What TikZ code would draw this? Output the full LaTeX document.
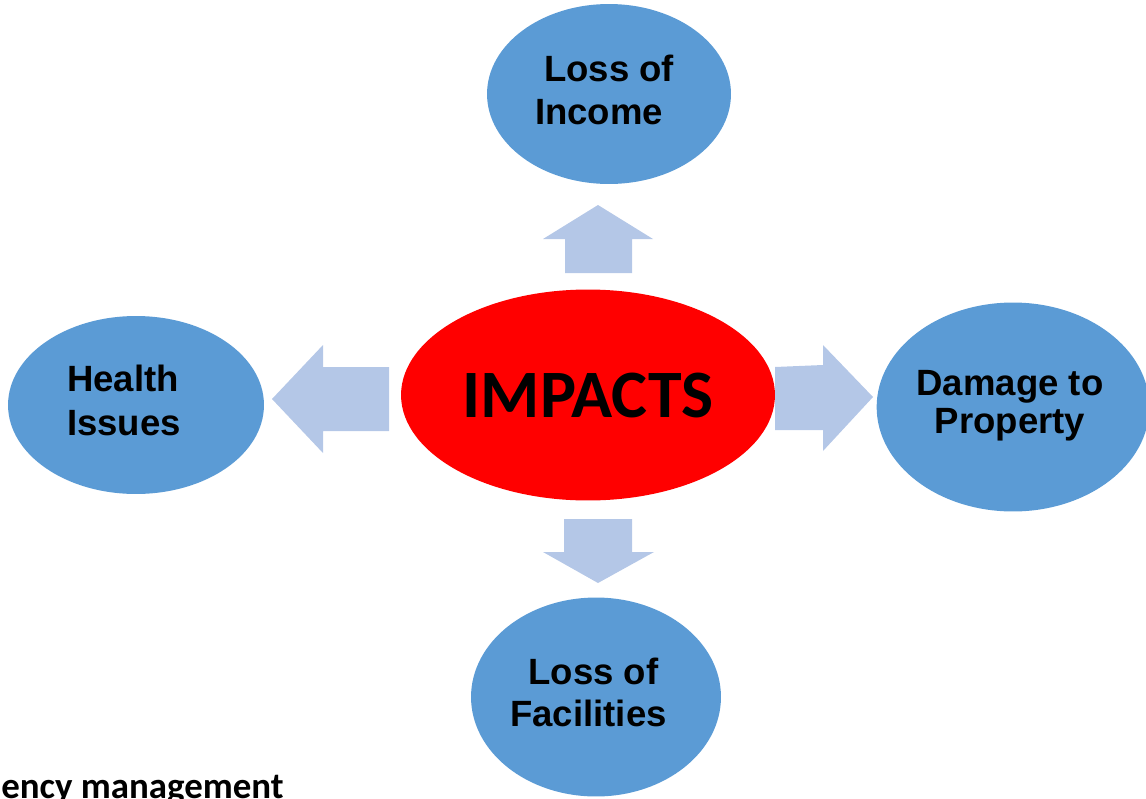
\documentclass[tikz,border=0pt]{standalone}
\usepackage{fontspec}
\setmainfont{Liberation Sans}
\newfontfamily\calibri{Carlito}
\usetikzlibrary{shapes.geometric}
\definecolor{bubbleblue}{HTML}{5B9BD5}
\definecolor{arrowblue}{HTML}{B4C7E7}
\def\bubbletext#1#2{\begin{tabular}{@{}#1@{}}#2\end{tabular}}
\tikzset{
  bubble/.style={ellipse, fill=bubbleblue, inner sep=0pt},
  fatarrow/.style={fill=arrowblue}
}

\begin{document}
\begin{tikzpicture}[x=0.02cm, y=-0.02cm]
		%%%%% frame %%%%%
		\useasboundingbox (0, 0) rectangle (1146, 798);
		\clip (0, 0) rectangle (1146, 798);
		
		%%%%% centre %%%%%
		\node[ellipse, fill=red, inner sep=0pt, minimum width=7.48cm, minimum height=4.22cm,
		  font=\calibri\bfseries\fontsize{38.6}{40}\selectfont] (impacts) at (588, 395) {IMPACTS};
		
		%%%%% impacts %%%%%
		\node[bubble, minimum width=4.88cm, minimum height=3.6cm, font=\bfseries\fontsize{20.8}{24.4}\selectfont]
		  (income) at (609, 94) {\bubbletext{c}{Loss of\\Income\kern0.4cm}};
		\node[bubble, minimum width=5.12cm, minimum height=3.56cm, font=\bfseries\fontsize{20.8}{25}\selectfont]
		  (health) at (136, 405) {\bubbletext{l}{Health\\Issues\kern0.48cm}};
		\node[bubble, minimum width=5.3cm, minimum height=4.18cm, font=\bfseries\fontsize{20.8}{21.6}\selectfont]
		  (property) at (1013, 407) {\bubbletext{c}{Damage to\kern0.12cm\\Property\kern0.12cm}};
		\node[bubble, minimum width=5.0cm, minimum height=3.98cm, font=\bfseries\fontsize{20.8}{23.9}\selectfont]
		  (facilities) at (596, 697) {\bubbletext{c}{Loss of\kern0.1cm\\Facilities\kern0.3cm}};
		
		%%%%% arrows %%%%%
		\fill[fatarrow] (565, 273) -- (565, 239) -- (543, 239) -- (598, 205) -- (653, 239) -- (632, 239) -- (632, 273) -- cycle;
		\fill[fatarrow] (564, 519) -- (564, 552) -- (543, 552) -- (598, 583) -- (654, 552) -- (632, 552) -- (632, 519) -- cycle;
		\fill[fatarrow] (389, 367) -- (323, 367) -- (323, 345) -- (272, 399) -- (323, 453) -- (323, 431) -- (389, 431) -- cycle;
		\fill[fatarrow] (775, 367) -- (823, 365) -- (823, 345) -- (873, 397) -- (823, 451) -- (823, 430) -- (775, 430) -- cycle;
		
		%%%%% cut-off caption %%%%%
		\node[anchor=base east, inner sep=0pt, font=\calibri\bfseries\fontsize{21}{24}\selectfont] (caption) at (284, 798) {ency management};
	\end{tikzpicture}
\end{document}
